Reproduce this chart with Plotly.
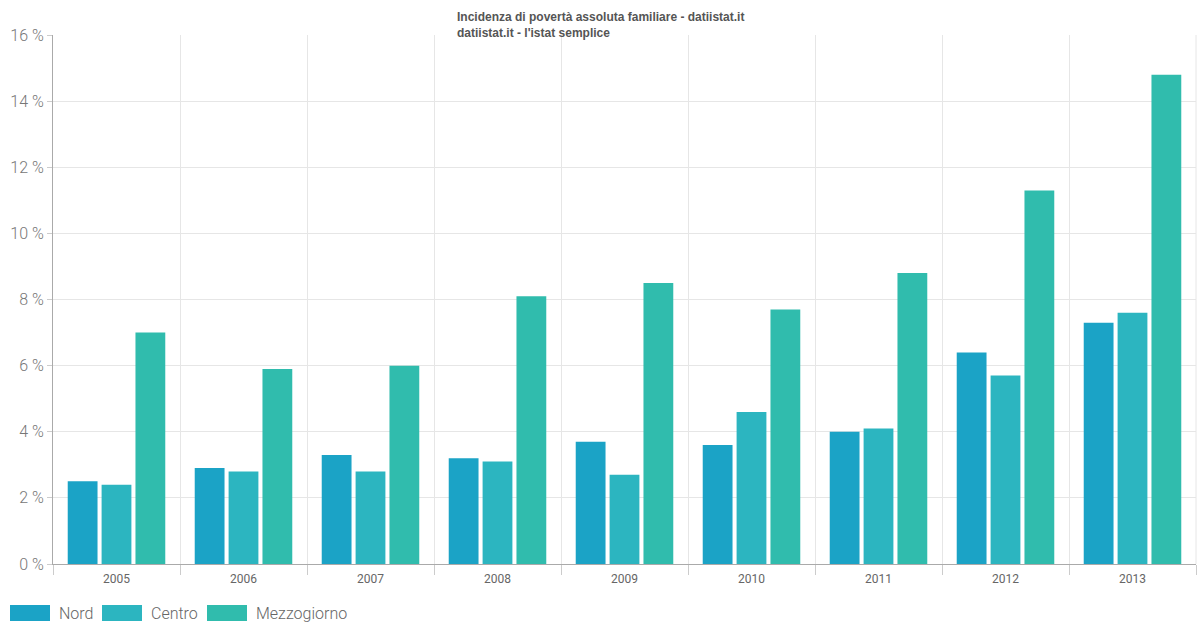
import plotly.graph_objects as go

years = ["2005", "2006", "2007", "2008", "2009", "2010", "2011", "2012", "2013"]
nord = [2.5, 2.9, 3.3, 3.2, 3.7, 3.6, 4.0, 6.4, 7.3]
centro = [2.4, 2.8, 2.8, 3.1, 2.7, 4.6, 4.1, 5.7, 7.6]
mezzogiorno = [7.0, 5.9, 6.0, 8.1, 8.5, 7.7, 8.8, 11.3, 14.8]
series_names = ["Nord", "Centro", "Mezzogiorno"]
colors = ["#1ba3c6", "#2cb5c0", "#30bcad"]
y_ticks = [0, 2, 4, 6, 8, 10, 12, 14, 16]
y_labels = [f"{v} %" for v in y_ticks]

fig = go.Figure()
for name, vals, col in zip(series_names, [nord, centro, mezzogiorno], colors):
    fig.add_trace(go.Bar(x=years, y=vals, name=name, marker=dict(color=col, line=dict(width=0)),
                         showlegend=False))

fig.update_layout(
    width=1200, height=630,
    margin=dict(l=53, r=4, t=35, b=66),
    paper_bgcolor="white", plot_bgcolor="white",
    barmode="group", bargap=0.2, bargroupgap=0.12,
    font=dict(family="Roboto, Arial, sans-serif", color="#666"),
    xaxis=dict(type="category", tickson="boundaries", showgrid=True, gridcolor="#e6e6e6",
               ticks="outside", ticklen=10, tickcolor="#ccc", showline=True, linecolor="#aaa",
               tickfont=dict(size=12, color="#666"), range=[-0.5, 8.5], mirror=False,
               ticklabelstandoff=4),
    yaxis=dict(range=[0, 16], tickvals=y_ticks, ticktext=y_labels, showgrid=True, gridcolor="#e6e6e6",
               ticks="outside", ticklen=5, tickcolor="#ccc", showline=True, linecolor="#aaa",
               tickfont=dict(size=16, color="#777", weight=300), zeroline=False),
)

# right boundary line
fig.add_shape(type="line", xref="paper", yref="paper", x0=1, x1=1, y0=0, y1=1,
              line=dict(color="#e6e6e6", width=1))

fig.add_annotation(xref="paper", yref="paper", x=0.479, y=1.0, xanchor="center", yanchor="bottom",
                   yshift=-7, align="left", showarrow=False,
                   text="<b>Incidenza di povertà assoluta familiare - datiistat.it<br>datiistat.it - l'istat semplice</b>",
                   font=dict(family="Liberation Sans, Arial, sans-serif", size=12, color="#555"))

# custom legend
leg_x = [10, 102, 207]
for i, (name, col) in enumerate(zip(series_names, colors)):
    x0 = leg_x[i] - 53
    fig.add_shape(type="rect", xref="x domain", yref="paper",
                  x0=x0 / 1143, x1=(x0 + 40) / 1143, y0=-41 / 529, y1=-57 / 529,
                  fillcolor=col, line=dict(width=0))
    fig.add_annotation(xref="x domain", yref="paper", x=(x0 + 47) / 1143, y=-49 / 529,
                       xanchor="left", yanchor="middle", showarrow=False, text=name,
                       font=dict(size=16, color="#666", weight=300))

fig.write_html("out.html", config={"displayModeBar": False},
               post_script="document.body.style.margin='0';document.body.style.overflow='hidden';")
